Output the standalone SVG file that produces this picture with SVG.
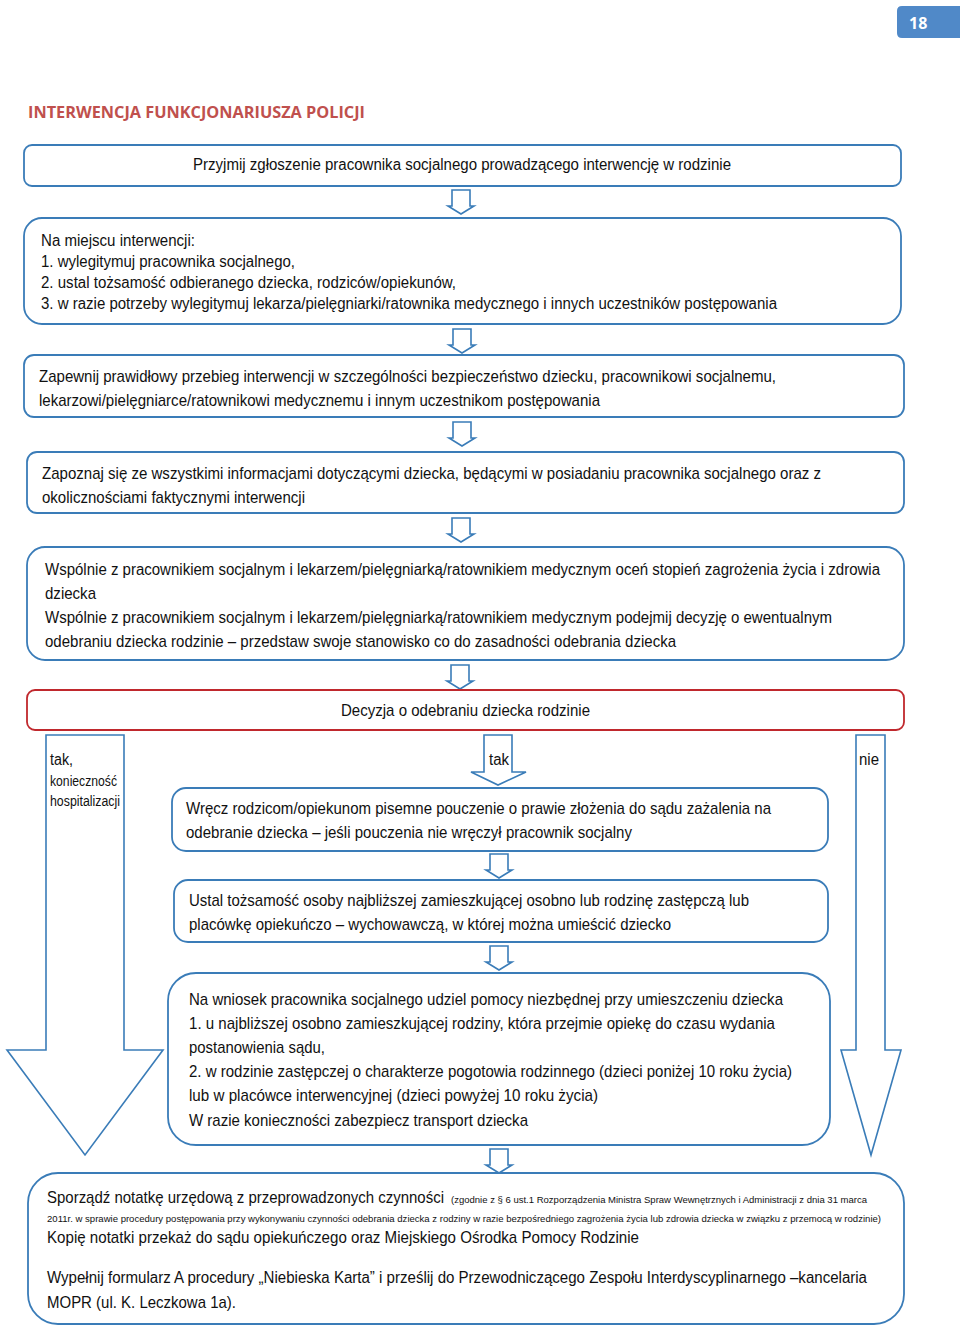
<svg xmlns="http://www.w3.org/2000/svg" width="960" height="1331" viewBox="0 0 960 1331">
<style>
.box{fill:#fff;stroke:#3a7cb8;stroke-width:1.8}
.red{fill:#fff;stroke:#c0282d;stroke-width:1.8}
.arr{fill:#fff;stroke:#3a7cb8;stroke-width:1.6;stroke-linejoin:miter}
.t{font-family:"Liberation Sans",Arial,sans-serif;font-size:17px;fill:#111}
.tn{font-family:"Liberation Sans",Arial,sans-serif;font-size:16px;fill:#111}
.t16{font-family:"Liberation Sans",Arial,sans-serif;font-size:16px;fill:#111}
.s{font-family:"Liberation Sans",Arial,sans-serif;font-size:9.5px;fill:#111}
.s14{font-family:"Liberation Sans",Arial,sans-serif;font-size:14px;fill:#111}
</style>
<defs>
<path id="sa" class="arr" d="M-9,0 H9 V16 H13 L0,24 L-13,16 H-9 Z"/>
</defs>
<rect width="960" height="1331" fill="#fff"/>
<g id="page-tab">
<path d="M902,6 H960 V38 H902 Q897,38 897,33 V11 Q897,6 902,6 Z" fill="#5089c8"/>
<text x="909" y="29" font-family="'Open Sans','Liberation Sans',sans-serif" font-weight="bold" font-size="16" fill="#fff">18</text>
</g>
<g id="title">
<text x="28" y="118" font-family="'Open Sans','Liberation Sans',sans-serif" font-weight="bold" font-size="15.5" fill="#c0504d" textLength="337" lengthAdjust="spacingAndGlyphs">INTERWENCJA FUNKCJONARIUSZA POLICJI</text>
</g>
<g id="connectors">
<use href="#sa" x="461" y="190"/>
<use href="#sa" x="462" y="329"/>
<use href="#sa" x="462" y="422"/>
<use href="#sa" x="461" y="518"/>
<use href="#sa" x="460" y="665"/>
<use href="#sa" x="499" y="854"/>
<use href="#sa" x="499" y="946"/>
<use href="#sa" x="499" y="1149"/>
<path class="arr" d="M46,735 H124 V1050 H163 L85,1155 L7,1050 H46 Z"/>
<path class="arr" d="M484,735 H512 V772 H526 L498,785 L471,772 H484 Z"/>
<path class="arr" d="M856,735 H885 V1050 H901 L871,1155 L841,1050 H856 Z"/>
<text class="t16" x="50" y="765" textLength="23" lengthAdjust="spacingAndGlyphs">tak,</text>
<text class="s14" x="50" y="786" textLength="67" lengthAdjust="spacingAndGlyphs">konieczność</text>
<text class="s14" x="50" y="806" textLength="70" lengthAdjust="spacingAndGlyphs">hospitalizacji</text>
<text class="t16" x="489" y="765" textLength="20" lengthAdjust="spacingAndGlyphs">tak</text>
<text class="t16" x="859" y="765" textLength="20" lengthAdjust="spacingAndGlyphs">nie</text>
</g>
<g id="n1">
<rect class="box" x="24" y="145" width="877" height="41" rx="8"/>
<text class="t16" x="193" y="170" textLength="538" lengthAdjust="spacingAndGlyphs">Przyjmij zgłoszenie pracownika socjalnego prowadzącego interwencję w rodzinie</text>
</g>
<g id="n2">
<rect class="box" x="24" y="218" width="877" height="106" rx="18"/>
<text class="t16" x="41" y="246" textLength="154" lengthAdjust="spacingAndGlyphs">Na miejscu interwencji:</text>
<text class="t16" x="41" y="267" textLength="254" lengthAdjust="spacingAndGlyphs">1. wylegitymuj pracownika socjalnego,</text>
<text class="t16" x="41" y="288" textLength="415" lengthAdjust="spacingAndGlyphs">2. ustal tożsamość odbieranego dziecka, rodziców/opiekunów,</text>
<text class="t16" x="41" y="309" textLength="736" lengthAdjust="spacingAndGlyphs">3. w razie potrzeby wylegitymuj lekarza/pielęgniarki/ratownika medycznego i innych uczestników postępowania</text>
</g>
<g id="n3">
<rect class="box" x="24" y="355" width="880" height="62" rx="10"/>
<text class="t" x="39" y="382" textLength="737" lengthAdjust="spacingAndGlyphs">Zapewnij prawidłowy przebieg interwencji w szczególności bezpieczeństwo dziecku, pracownikowi socjalnemu,</text>
<text class="t" x="39" y="406" textLength="561" lengthAdjust="spacingAndGlyphs">lekarzowi/pielęgniarce/ratownikowi medycznemu i innym uczestnikom postępowania</text>
</g>
<g id="n4">
<rect class="box" x="27" y="452" width="877" height="61" rx="10"/>
<text class="t" x="42" y="479" textLength="779" lengthAdjust="spacingAndGlyphs">Zapoznaj się ze wszystkimi informacjami dotyczącymi dziecka, będącymi w posiadaniu pracownika socjalnego oraz z</text>
<text class="t" x="42" y="503" textLength="263" lengthAdjust="spacingAndGlyphs">okolicznościami faktycznymi interwencji</text>
</g>
<g id="n5">
<rect class="box" x="27" y="547" width="877" height="113" rx="18"/>
<text class="tn" x="45" y="575" textLength="835" lengthAdjust="spacingAndGlyphs">Wspólnie z pracownikiem socjalnym i lekarzem/pielęgniarką/ratownikiem medycznym oceń stopień zagrożenia życia i zdrowia</text>
<text class="t" x="45" y="599" textLength="51" lengthAdjust="spacingAndGlyphs">dziecka</text>
<text class="t" x="45" y="623" textLength="787" lengthAdjust="spacingAndGlyphs">Wspólnie z pracownikiem socjalnym i lekarzem/pielęgniarką/ratownikiem medycznym podejmij decyzję o ewentualnym</text>
<text class="t" x="45" y="647" textLength="631" lengthAdjust="spacingAndGlyphs">odebraniu dziecka rodzinie – przedstaw swoje stanowisko co do zasadności odebrania dziecka</text>
</g>
<g id="n6">
<rect class="red" x="27" y="690" width="877" height="40" rx="8"/>
<text class="t" x="341" y="716" textLength="249" lengthAdjust="spacingAndGlyphs">Decyzja o odebraniu dziecka rodzinie</text>
</g>
<g id="n7">
<rect class="box" x="172" y="788" width="656" height="63" rx="14"/>
<text class="t" x="186" y="814" textLength="585" lengthAdjust="spacingAndGlyphs">Wręcz rodzicom/opiekunom pisemne pouczenie o prawie złożenia do sądu zażalenia na</text>
<text class="t" x="186" y="838" textLength="446" lengthAdjust="spacingAndGlyphs">odebranie dziecka – jeśli pouczenia nie wręczył pracownik socjalny</text>
</g>
<g id="n8">
<rect class="box" x="174" y="880" width="654" height="62" rx="14"/>
<text class="t" x="189" y="906" textLength="560" lengthAdjust="spacingAndGlyphs">Ustal tożsamość osoby najbliższej zamieszkującej osobno lub rodzinę zastępczą lub</text>
<text class="t" x="189" y="930" textLength="482" lengthAdjust="spacingAndGlyphs">placówkę opiekuńczo – wychowawczą, w której można umieścić dziecko</text>
</g>
<g id="n9">
<rect class="box" x="168" y="973" width="662" height="172" rx="28"/>
<text class="t" x="189" y="1005" textLength="594" lengthAdjust="spacingAndGlyphs">Na wniosek pracownika socjalnego udziel pomocy niezbędnej przy umieszczeniu dziecka</text>
<text class="t" x="189" y="1029" textLength="586" lengthAdjust="spacingAndGlyphs">1. u najbliższej osobno zamieszkującej rodziny, która przejmie opiekę do czasu wydania</text>
<text class="t" x="189" y="1053" textLength="136" lengthAdjust="spacingAndGlyphs">postanowienia sądu,</text>
<text class="t" x="189" y="1077" textLength="603" lengthAdjust="spacingAndGlyphs">2. w rodzinie zastępczej o charakterze pogotowia rodzinnego (dzieci poniżej 10 roku życia)</text>
<text class="t" x="189" y="1101" textLength="409" lengthAdjust="spacingAndGlyphs">lub  w placówce interwencyjnej (dzieci powyżej 10 roku życia)</text>
<text class="t" x="189" y="1126" textLength="339" lengthAdjust="spacingAndGlyphs">W razie konieczności zabezpiecz transport dziecka</text>
</g>
<g id="n10">
<rect class="box" x="28" y="1173" width="876" height="151" rx="30"/>
<text class="t" y="1203"><tspan x="47" textLength="397" lengthAdjust="spacingAndGlyphs">Sporządź notatkę urzędową z przeprowadzonych czynności</tspan><tspan class="s" x="451" textLength="416" lengthAdjust="spacingAndGlyphs">(zgodnie z § 6 ust.1 Rozporządzenia Ministra Spraw Wewnętrznych i Administracji z dnia 31 marca</tspan></text>
<text class="s" x="47" y="1222" textLength="834" lengthAdjust="spacingAndGlyphs">2011r. w sprawie procedury postępowania przy wykonywaniu czynności odebrania dziecka z rodziny w razie bezpośredniego zagrożenia życia lub zdrowia dziecka w związku z przemocą w rodzinie)</text>
<text class="t" x="47" y="1243" textLength="592" lengthAdjust="spacingAndGlyphs">Kopię  notatki przekaż do sądu opiekuńczego oraz Miejskiego Ośrodka Pomocy Rodzinie</text>
<text class="tn" x="47" y="1283" textLength="820" lengthAdjust="spacingAndGlyphs">Wypełnij formularz A procedury „Niebieska Karta” i prześlij do Przewodniczącego Zespołu Interdyscyplinarnego –kancelaria</text>
<text class="t" x="47" y="1308" textLength="189" lengthAdjust="spacingAndGlyphs">MOPR (ul. K. Leczkowa 1a).</text>
</g>
</svg>
